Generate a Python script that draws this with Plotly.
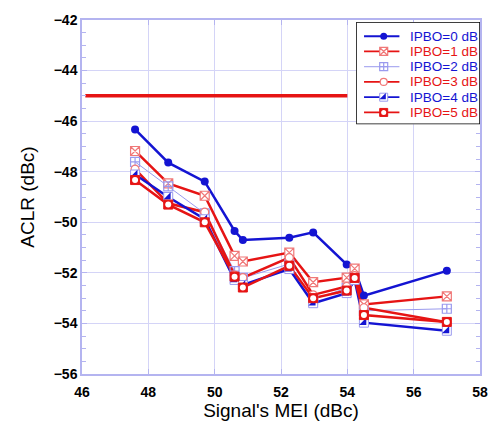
import plotly.graph_objects as go

# Signal MEI (dBc) at each measured point
mei = [47.6, 48.6, 49.7, 50.6, 50.85, 52.25, 52.97, 53.98, 54.22, 54.5, 57.0]

# ACLR (dBc) per input back-off level
aclr_0 = [-46.33, -47.64, -48.39, -50.34, -50.70, -50.61, -50.40, -51.67, -51.83, -52.90, -51.92]
aclr_1 = [-47.18, -48.46, -48.95, -51.33, -51.55, -51.20, -52.37, -52.19, -51.83, -53.25, -52.93]
aclr_2 = [-47.61, -48.58, -49.65, -51.93, -52.20, -51.65, -53.05, -52.60, -52.20, -53.50, -53.42]
aclr_3 = [-47.90, -49.25, -49.60, -52.09, -52.19, -51.40, -52.87, -52.54, -52.11, -53.38, -53.95]
aclr_4 = [-48.11, -49.00, -49.88, -52.28, -52.48, -51.85, -53.20, -52.80, -52.28, -53.97, -54.29]
aclr_5 = [-48.33, -49.30, -50.00, -52.15, -52.58, -51.72, -53.00, -52.70, -52.20, -53.67, -53.94]

# ACLR limit line
limit_x = [46.1, 54.0]
limit_y = [-45, -45]

names = ["IPBO=0 dB", "IPBO=1 dB", "IPBO=2 dB", "IPBO=3 dB", "IPBO=4 dB", "IPBO=5 dB"]

BLUE = "#1414d2"
RED = "#e61414"
LRED = "#f07878"
LBLUE = "#9a9aee"
FONT = "Liberation Sans, Arial"

fig = go.Figure()

fig.add_trace(go.Scatter(x=limit_x, y=limit_y, mode="lines", line=dict(color=RED, width=3.5)))

# (values, line style, marker layers) for each series
series = [
    (aclr_0, dict(color=BLUE, width=2.5),
     [dict(symbol="circle", size=8, color=BLUE)]),
    (aclr_1, dict(color=RED, width=2.5),
     [dict(symbol="square-x", size=9, color="white", line=dict(color=LRED, width=1.2))]),
    (aclr_2, dict(color=LBLUE, width=1),
     [dict(symbol="square-cross", size=9, color="rgba(255,255,255,0)", line=dict(color=LBLUE, width=1.2))]),
    (aclr_3, dict(color=RED, width=2.5),
     [dict(symbol="circle", size=8, color="white", line=dict(color=LRED, width=1.2))]),
    (aclr_4, dict(color=BLUE, width=2.5),
     [dict(symbol="square", size=9, color="white", line=dict(color=LBLUE, width=1)),
      dict(symbol="triangle-se", size=8, color=BLUE, line=dict(width=0))]),
    (aclr_5, dict(color=RED, width=2.5),
     [dict(symbol="square", size=9, color=RED, line=dict(color=RED, width=1)),
      dict(symbol="circle", size=6, color="white", line=dict(width=0))]),
]

for vals, line, markers in series:
    fig.add_trace(go.Scatter(x=mei, y=vals, mode="lines", line=line))
for vals, line, markers in series:
    for m in markers:
        fig.add_trace(go.Scatter(x=mei, y=vals, mode="markers", marker=m))

# plot area spans x 82..487 px, y 14..374 px
x0p, x1p, y0p, y1p = 82, 487, 14, 374
# legend box in the same pixel frame
lx0, lx1, ly0, ly1 = 361, 487, 16, 120

# Legend drawn on its own pixel-like axes
leg_rows = [14.5, 30, 45.5, 61, 76.5, 92]
leg_colors = [BLUE, RED, BLUE, RED, BLUE, RED]
line_x = [8, 44]
mark_x = [28]

fig.add_shape(type="rect", xref="x2", yref="y2", x0=0, x1=lx1 - lx0, y0=0, y1=ly1 - ly0,
              fillcolor="white", line=dict(color="black", width=1.5), layer="between")

for i, (vals, line, markers) in enumerate(series):
    yy = leg_rows[i]
    fig.add_trace(go.Scatter(x=line_x, y=[yy, yy], mode="lines", xaxis="x2", yaxis="y2",
                             line=dict(color=line["color"], width=min(line["width"], 1.8))))
    for m in markers:
        mm = dict(m)
        mm["size"] = m["size"] - 1
        fig.add_trace(go.Scatter(x=mark_x, y=[yy], mode="markers", xaxis="x2", yaxis="y2", marker=mm))
    fig.add_annotation(x=53, y=yy, xref="x2", yref="y2", text=names[i], showarrow=False,
                       xanchor="left", yanchor="middle",
                       font=dict(family=FONT, size=13.5, color=leg_colors[i]))

grid = "#d4d4f7"
axis_line = "#b4b4f0"

fig.update_layout(
    width=500, height=431,
    margin=dict(l=x0p, r=500 - x1p, t=y0p, b=431 - y1p),
    paper_bgcolor="white", plot_bgcolor="white",
    font=dict(family=FONT, color="black"),
    showlegend=False,
    xaxis=dict(range=[46, 58], dtick=2, showgrid=True, gridcolor=grid, gridwidth=1,
               showline=True, linecolor=axis_line, linewidth=1.5, mirror="ticks",
               ticks="inside", ticklen=5, tickcolor=axis_line, ticklabelstandoff=4,
               tickfont=dict(size=14, family=FONT, weight="bold"),
               title=dict(text="Signal's MEI (dBc)", font=dict(size=19), standoff=4),
               zeroline=False),
    yaxis=dict(range=[-56, -42], dtick=2, showgrid=True, gridcolor=grid, gridwidth=1,
               showline=True, linecolor=axis_line, linewidth=1.5, mirror="ticks",
               ticks="inside", ticklen=5, tickcolor=axis_line,
               minor=dict(dtick=0.5, ticks="inside", ticklen=4, tickcolor=axis_line, showgrid=False),
               tickfont=dict(size=14, family=FONT, weight="bold"),
               title=dict(text="ACLR (dBc)", font=dict(size=19), standoff=14),
               zeroline=False),
    xaxis2=dict(domain=[(lx0 - x0p) / (x1p - x0p), min(1.0, (lx1 - x0p) / (x1p - x0p))],
                range=[0, lx1 - lx0], visible=False, anchor="y2", fixedrange=True),
    yaxis2=dict(domain=[1 - (ly1 - y0p) / (y1p - y0p), 1 - (ly0 - y0p) / (y1p - y0p)],
                range=[ly1 - ly0, 0], visible=False, anchor="x2", fixedrange=True),
)

fig.write_html("out.html")
